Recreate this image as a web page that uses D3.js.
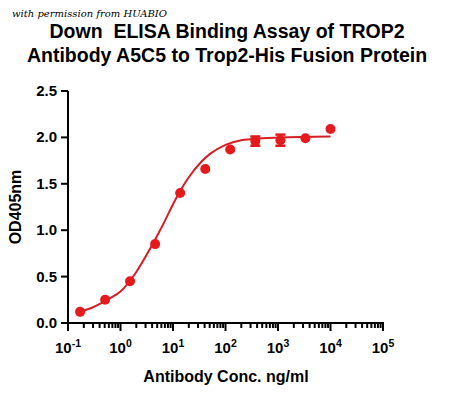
<!DOCTYPE html>
<html><head><meta charset="utf-8">
<script src="https://cdn.jsdelivr.net/npm/d3@7"></script>
<style>body{margin:0;background:#fff}svg{font-family:"Liberation Sans",Arial,sans-serif}</style>
</head><body><svg width="450" height="400"></svg>
<script>
// measured points (ng/ml, OD405)
const conc = [0.17, 0.51, 1.52, 4.57, 13.7, 41.2, 123, 370, 1111, 3333, 10000]
const od   = [0.12, 0.25, 0.45, 0.85, 1.40, 1.66, 1.87, 1.96, 1.97, 1.99, 2.09]
const err  = [0, 0, 0, 0, 0, 0, 0, 0.05, 0.06, 0, 0]
// fitted curve
const fitX = [0.17, 0.3, 0.6, 1, 2, 3.5, 5, 7, 10, 15, 20, 35, 50, 100, 200, 500, 1000, 10000]
const fitY = [0.12, 0.17, 0.26, 0.34, 0.55, 0.78, 0.94, 1.10, 1.28, 1.46, 1.57, 1.74, 1.82, 1.92, 1.97, 1.99, 2.00, 2.01]
const yTicks = [0, 0.5, 1.0, 1.5, 2.0, 2.5]
const xExps = [-1, 0, 1, 2, 3, 4, 5]

const svg = d3.select("svg")
const red = "#e41a1c"
const x = d3.scaleLog().domain([0.1, 1e5]).range([68, 383])
const y = d3.scaleLinear().domain([0, 2.5]).range([323, 91])

svg.append("text").attr("x", 12).attr("y", 17).attr("font-family", "DejaVu Serif")
  .attr("font-style", "italic").attr("font-size", 10).text("with permission from HUABIO")
svg.append("text").attr("x", 227).attr("y", 38).attr("text-anchor", "middle").style("white-space", "pre")
  .attr("font-weight", "bold").attr("font-size", 19.5).text("Down  ELISA Binding Assay of TROP2")
svg.append("text").attr("x", 227).attr("y", 62).attr("text-anchor", "middle")
  .attr("font-weight", "bold").attr("font-size", 19.5).text("Antibody A5C5 to Trop2-His Fusion Protein")

// axes
const g = svg.append("g").attr("stroke", "#000").attr("stroke-width", 2)
g.append("line").attr("x1", 68).attr("x2", 68).attr("y1", y(2.5)).attr("y2", 324)
g.append("line").attr("x1", 67).attr("x2", 384).attr("y1", 323).attr("y2", 323)
yTicks.forEach(t => {
  g.append("line").attr("x1", 61).attr("x2", 68).attr("y1", y(t)).attr("y2", y(t))
  svg.append("text").attr("x", 57).attr("y", y(t) + 5).attr("text-anchor", "end")
    .attr("font-weight", "bold").attr("font-size", 15).text(d3.format(".1f")(t))
})
xExps.forEach((e, i) => {
  g.append("line").attr("x1", x(10 ** e)).attr("x2", x(10 ** e)).attr("y1", 323).attr("y2", 331)
  if (i < xExps.length - 1) for (let k = 2; k < 10; k++)
    g.append("line").attr("x1", x(k * 10 ** e)).attr("x2", x(k * 10 ** e)).attr("y1", 323).attr("y2", 328)
  const t = svg.append("text").attr("x", x(10 ** e)).attr("y", 353).attr("text-anchor", "middle")
    .attr("font-weight", "bold").attr("font-size", 15)
  t.append("tspan").text("10")
  t.append("tspan").attr("dy", -6).attr("font-size", 10.5).text(e)
})
svg.append("text").attr("x", 226).attr("y", 382).attr("text-anchor", "middle")
  .attr("font-weight", "bold").attr("font-size", 16).text("Antibody Conc. ng/ml")
svg.append("text").attr("transform", "translate(21,207) rotate(-90)").attr("text-anchor", "middle")
  .attr("font-weight", "bold").attr("font-size", 16).text("OD405nm")

// fit curve
svg.append("path").datum(fitX.map((v, i) => [v, fitY[i]]))
  .attr("fill", "none").attr("stroke", "#d41f26").attr("stroke-width", 2)
  .attr("d", d3.line().x(d => x(d[0])).y(d => y(d[1])).curve(d3.curveMonotoneX))

// error bars + points
conc.forEach((c, i) => {
  if (err[i] > 0) {
    const e = svg.append("g").attr("stroke", red).attr("stroke-width", 2.5)
    e.append("line").attr("x1", x(c)).attr("x2", x(c)).attr("y1", y(od[i] - err[i])).attr("y2", y(od[i] + err[i]))
    ;[od[i] - err[i], od[i] + err[i]].forEach(v =>
      e.append("line").attr("x1", x(c) - 5).attr("x2", x(c) + 5).attr("y1", y(v)).attr("y2", y(v)))
  }
})
svg.selectAll("circle.pt").data(conc).join("circle").attr("class", "pt")
  .attr("cx", d => x(d)).attr("cy", (d, i) => y(od[i])).attr("r", 5).attr("fill", red)
</script></body></html>
